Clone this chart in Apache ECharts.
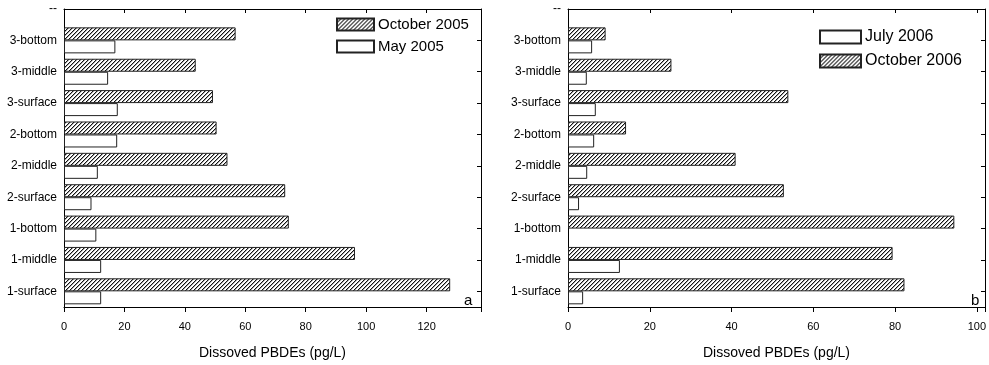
<!DOCTYPE html>
<html>
<head>
<meta charset="utf-8">
<script src="https://cdn.jsdelivr.net/npm/echarts@6/dist/echarts.min.js"></script>
<style>html,body{margin:0;padding:0;background:#fff;}#c{width:989px;height:365px;}</style>
</head>
<body>
<div id="c"></div>
<script>
const categories = ['1-surface','1-middle','1-bottom','2-surface','2-middle','2-bottom','3-surface','3-middle','3-bottom'];
const topLabel = '--';
const oct2005 = [127.8, 96.3, 74.4, 73.2, 54.1, 50.5, 49.3, 43.6, 56.8];
const may2005 = [12.3, 12.3, 10.7, 9.1, 11.2, 17.6, 17.8, 14.6, 17.0];
const jul2006 = [3.7, 12.7, null, 2.7, 4.7, 6.4, 6.8, 4.6, 5.9];
const oct2006 = [82.3, 79.4, 94.5, 52.8, 41.0, 14.2, 53.9, 25.3, 9.2];
const axisName = 'Dissoved PBDEs (pg/L)';

// half-slot category axis: labels at odd indexes, '--' at the very top
const slots = [''];
categories.forEach(c => { slots.push(c, ''); });
slots.push(topLabel);
function toSlots(vals){
  const arr = slots.map(() => null);
  vals.forEach((v, i) => { arr[2*i + 1] = v; });
  return arr;
}

// hatch pattern ("/" lines, 4px apart)
const pc = document.createElement('canvas');
pc.width = 4; pc.height = 4;
const g = pc.getContext('2d');
g.fillStyle = '#fff'; g.fillRect(0,0,4,4);
g.fillStyle = '#111';
for (let k = 0; k < 4; k++) { g.fillRect(k, 3 - k, 1, 1); }
g.fillStyle = 'rgba(0,0,0,0.35)';
for (let k = 0; k < 4; k++) { g.fillRect(k, (4 - k) % 4, 1, 1); }
const hatch = { image: pc, repeat: 'repeat' };
const plain = '#ffffff';

const txt = '#000';
const lineC = '#000';
const font = 'Liberation Sans, Arial';
const grids = [
  { left: 64, right: 508, top: 9, bottom: 51 },
  { left: 568, right: 3, top: 9, bottom: 51 }
];
const maxes = [138, 102];
const lastTick = [120, 100];

const xAxis = [], yAxis = [];
[0,1].forEach(i => {
  xAxis.push({
    type: 'value', gridIndex: i, min: 0, max: maxes[i], interval: 20, position: 'bottom',
    name: axisName, nameLocation: 'middle', nameGap: 39,
    nameTextStyle: { fontFamily: font, fontSize: 14, color: txt },
    axisLine: { show: true, onZero: false, lineStyle: { color: lineC, width: 1 } },
    axisTick: { show: true, inside: false, length: 5, lineStyle: { color: lineC } },
    axisLabel: { fontFamily: font, fontSize: 11, color: txt, margin: 14,
      formatter: v => (v % 20 === 0 && v <= lastTick[i]) ? String(v) : '' },
    splitLine: { show: false }
  });
  xAxis.push({
    type: 'value', gridIndex: i, min: 0, max: maxes[i], interval: 20, position: 'top',
    axisLine: { show: true, onZero: false, lineStyle: { color: lineC, width: 1 } },
    axisTick: { show: true, inside: true, length: 4, lineStyle: { color: lineC } },
    axisLabel: { show: false }, splitLine: { show: false }
  });
  yAxis.push({
    type: 'category', gridIndex: i, data: slots, boundaryGap: false, position: 'left',
    axisLine: { show: true, onZero: false, lineStyle: { color: lineC, width: 1 } },
    axisTick: { show: false },
    axisLabel: { interval: 0, fontFamily: font, fontSize: 12, color: txt, margin: 7 },
    splitLine: { show: false }
  });
  yAxis.push({
    type: 'category', gridIndex: i, data: slots, boundaryGap: false, position: 'right',
    axisLine: { show: true, onZero: false, lineStyle: { color: lineC, width: 1 } },
    axisTick: { show: true, inside: true, length: 4, interval: (idx) => idx % 2 === 1 && idx < 18, lineStyle: { color: lineC } },
    axisLabel: { show: false }, splitLine: { show: false }
  });
});

function bar(name, vals, color, gi){
  return {
    type: 'bar', name: name, data: toSlots(vals),
    xAxisIndex: gi * 2, yAxisIndex: gi * 2,
    barWidth: 13, barGap: '0%',
    itemStyle: { color: color, borderColor: '#222', borderWidth: 1 },
    animation: false
  };
}

const option = {
  animation: false,
  grid: grids,
  xAxis: xAxis,
  yAxis: yAxis,
  legend: [
    { left: 336, top: 17, padding: 0, orient: 'vertical', itemWidth: 37, itemHeight: 12, itemGap: 7,
      icon: 'rect', data: ['October 2005', 'May 2005'],
      textStyle: { fontFamily: font, fontSize: 15, color: txt, padding: [0,0,0,-1] } },
    { left: 819, top: 29, padding: 0, orient: 'vertical', itemWidth: 41, itemHeight: 13, itemGap: 8,
      icon: 'rect', data: ['July 2006', 'October 2006'],
      textStyle: { fontFamily: font, fontSize: 16, color: txt, padding: [0,0,0,-1] } }
  ],
  graphic: [
    { type: 'text', left: 464, top: 293, style: { text: 'a', fontFamily: font, fontSize: 15, fill: txt } },
    { type: 'text', left: 971, top: 293, style: { text: 'b', fontFamily: font, fontSize: 15, fill: txt } }
  ],
  series: [
    bar('October 2005', oct2005, hatch, 0),
    bar('May 2005', may2005, plain, 0),
    bar('October 2006', oct2006, hatch, 1),
    bar('July 2006', jul2006, plain, 1)
  ]
};
const chart = echarts.init(document.getElementById('c'), null, { renderer: 'canvas' });
chart.setOption(option);
</script>
</body>
</html>
